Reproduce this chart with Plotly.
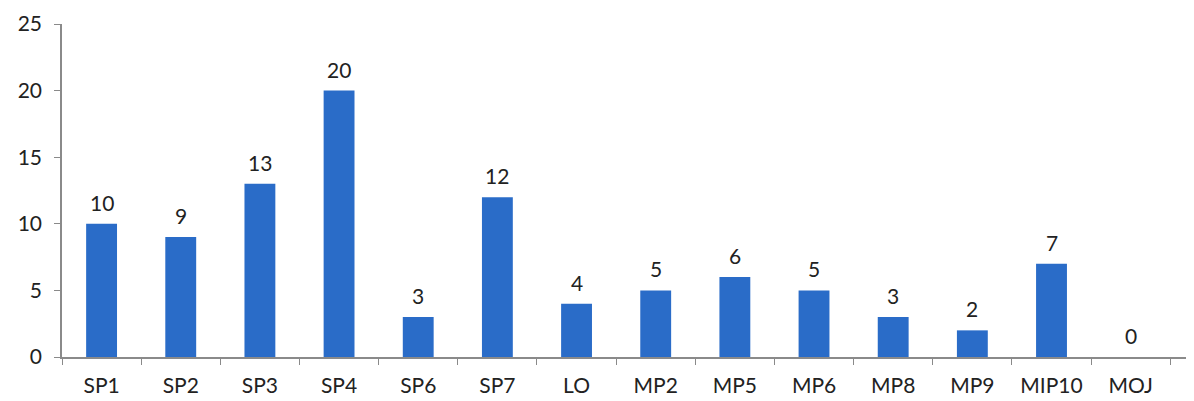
import plotly.graph_objects as go

categories = ["SP1", "SP2", "SP3", "SP4", "SP6", "SP7", "LO", "MP2", "MP5", "MP6", "MP8", "MP9", "MIP10", "MOJ"]
values = [10, 9, 13, 20, 3, 12, 4, 5, 6, 5, 3, 2, 7, 0]

FONT = "Lato"

fig = go.Figure(go.Bar(
    x=categories, y=values,
    marker=dict(color="#2a6cc8", line=dict(width=0)),
    width=0.39,
    hoverinfo="x+y",
))

for c, v in zip(categories, values):
    fig.add_annotation(
        x=c, y=v, text=str(v), showarrow=False,
        yanchor="bottom", yshift=7,
        font=dict(size=21, color="#222222", family=FONT),
    )

# page body has an 8px margin; figure is sized to fit the 1194x401 window
fig.update_layout(
    width=1186, height=393,
    margin=dict(l=54, r=0, t=16, b=44, autoexpand=False),
    paper_bgcolor="white", plot_bgcolor="white",
    showlegend=False,
    font=dict(family=FONT, size=21, color="#222222"),
)
fig.update_xaxes(
    range=[-0.5, 13.8], automargin=False,
    showline=True, linecolor="#8a8a8a", linewidth=1.5,
    ticks="outside", tickson="boundaries", ticklen=6, tickcolor="#8a8a8a",
    ticklabelstandoff=9,
    showgrid=False, zeroline=False,
    tickfont=dict(size=21, color="#222222", family=FONT),
)
fig.update_yaxes(
    range=[0, 25], dtick=5, automargin=False,
    showline=True, linecolor="#8a8a8a", linewidth=1.5,
    ticks="outside", ticklen=6, tickcolor="#8a8a8a",
    ticklabelstandoff=8,
    showgrid=False, zeroline=False,
    tickfont=dict(size=21, color="#222222", family=FONT),
)

fig.write_html("out.html")
